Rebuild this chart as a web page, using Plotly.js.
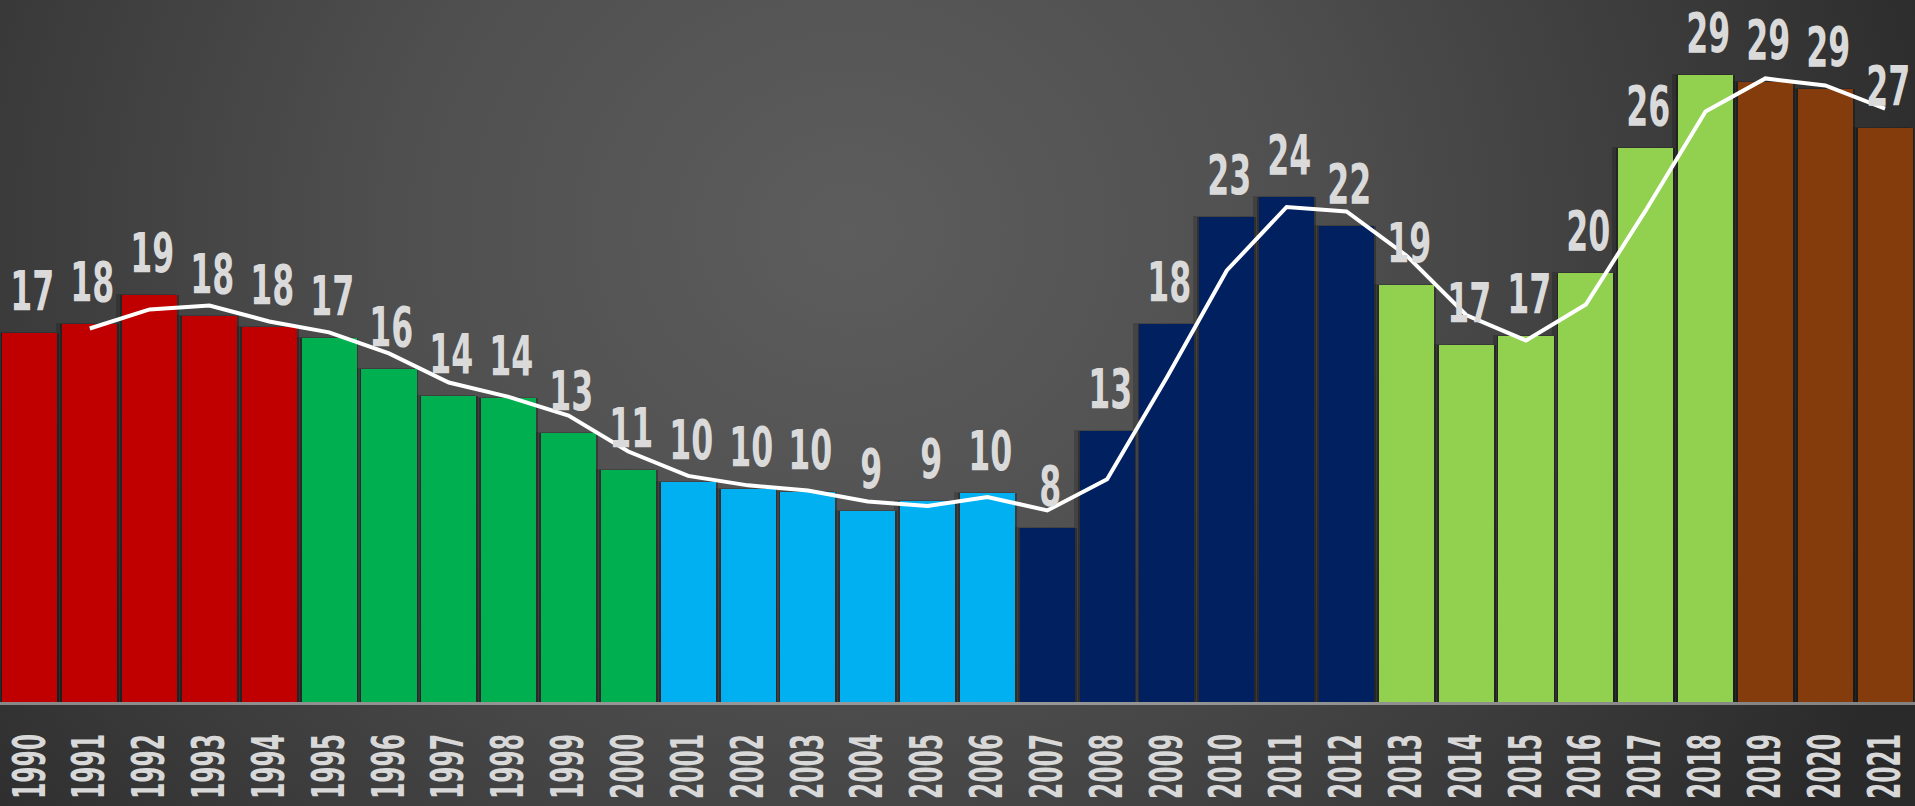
<!DOCTYPE html>
<html>
<head>
<meta charset="utf-8">
<script src="https://cdn.plot.ly/plotly-3.0.1.min.js"></script>
<style>
  html, body { margin: 0; padding: 0; width: 1915px; height: 806px; overflow: hidden; }
  body { background: radial-gradient(ellipse 1150px 1050px at 850px 230px, #5d5d5d 0%, #4f4f4f 40%, #3a3a3a 75%, #2a2a2a 100%); }
  #chart { width: 1915px; height: 806px; }
</style>
</head>
<body>
<div id="chart"></div>
<script>
// ---- data ----
const years = [1990,1991,1992,1993,1994,1995,1996,1997,1998,1999,2000,2001,2002,2003,2004,2005,2006,2007,2008,2009,2010,2011,2012,2013,2014,2015,2016,2017,2018,2019,2020,2021];
const values = [17.22,17.64,18.99,18.01,17.50,16.99,15.54,14.28,14.19,12.55,10.83,10.27,9.94,9.80,8.91,9.38,9.75,8.12,12.65,17.64,22.63,23.57,22.21,19.46,16.66,17.08,20.02,25.85,29.26,28.93,28.60,26.78];
const valueLabels = ['17','18','19','18','18','17','16','14','14','13','11','10','10','10','9','9','10','8','13','18','23','24','22','19','17','17','20','26','29','29','29','27'];
const groups = ['r','r','r','r','r','g','g','g','g','g','g','b','b','b','b','b','b','n','n','n','n','n','n','l','l','l','l','l','l','o','o','o'];
const lineYears = [1991,1992,1993,1994,1995,1996,1997,1998,1999,2000,2001,2002,2003,2004,2005,2006,2007,2008,2009,2010,2011,2012,2013,2014,2015,2016,2017,2018,2019,2020,2021];
const lineValues = [17.43,18.32,18.50,17.76,17.25,16.27,14.91,14.24,13.37,11.69,10.55,10.11,9.87,9.36,9.15,9.57,8.94,10.39,15.15,20.14,23.10,22.89,20.84,18.06,16.87,18.55,22.94,27.56,29.10,28.77,27.69];

// ---- styles ----
const groupColors = { r:'#c00000', g:'#00b050', b:'#00b0f0', n:'#002060', l:'#92d050', o:'#843c0c' };
const barColors = groups.map(g => groupColors[g]);
const FONT = '"DejaVu Sans", sans-serif';

const shadow1 = {
  type: 'bar', x: years, y: values.map(v => v + 0.06), width: 1.0, offset: -0.56,
  marker: { color: 'rgba(0,0,0,0.18)', line: { width: 0 } },
  hoverinfo: 'skip', showlegend: false
};
const shadow2 = {
  type: 'bar', x: years, y: values.map(v => v + 0.02), width: 0.98,
  marker: { color: 'rgba(0,0,0,0.28)', line: { width: 0 } },
  hoverinfo: 'skip', showlegend: false
};
const bars = {
  type: 'bar', x: years, y: values, width: 0.92,
  marker: { color: barColors, line: { width: 0 } },
  showlegend: false
};
const line = {
  type: 'scatter', mode: 'lines', x: lineYears, y: lineValues,
  line: { color: '#ffffff', width: 4 },
  showlegend: false
};

const annotations = years.map((yr, i) => ({
  x: yr, y: values[i], xref: 'x', yref: 'y',
  text: valueLabels[i], showarrow: false,
  yanchor: 'bottom', xanchor: 'center', yshift: 8, xshift: 3,
  font: { family: FONT, size: 55, color: '#dadada', weight: 'bold' }
}));

const layout = {
  width: 1915, height: 806,
  margin: { l: 0, r: 0, t: 0, b: 104, pad: 0 },
  paper_bgcolor: 'rgba(0,0,0,0)',
  plot_bgcolor: 'rgba(0,0,0,0)',
  barmode: 'overlay',
  bargap: 0,
  xaxis: {
    type: 'linear', range: [1989.5, 2021.5],
    tickmode: 'array', tickvals: years, ticktext: years.map(String),
    tickangle: -90, ticks: '', ticklabelstandoff: 11,
    tickfont: { family: FONT, size: 45, color: '#d8d8d8', weight: 'bold' },
    showgrid: false, zeroline: false,
    showline: true, linecolor: 'rgba(255,255,255,0.42)', linewidth: 3
  },
  yaxis: {
    range: [0, 32.76], visible: false, showgrid: false, zeroline: false
  },
  annotations: annotations,
  font: { family: FONT }
};

function condense(selector, factor) {
  document.querySelectorAll(selector).forEach(t => {
    const len = t.getComputedTextLength();
    t.setAttribute('textLength', (len * factor).toFixed(1));
    t.setAttribute('lengthAdjust', 'spacingAndGlyphs');
  });
}

Plotly.newPlot('chart', [shadow1, shadow2, bars, line], layout, { displayModeBar: false, staticPlot: true })
  .then(() => {
    condense('#chart .xtick text', 0.52);
    condense('#chart .annotation-text', 0.575);
  });
</script>
</body>
</html>
